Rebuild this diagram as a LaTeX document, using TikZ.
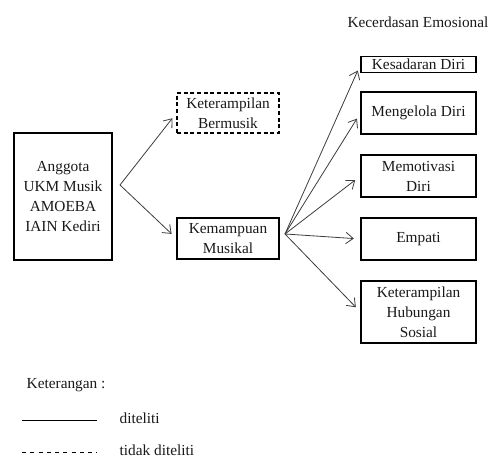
\documentclass[tikz,border=0pt]{standalone}
\usepackage{fontspec}
\setmainfont{Liberation Serif}
\definecolor{edgecolor}{RGB}{60,60,60}
\definecolor{txtcolor}{RGB}{25,25,25}
\usetikzlibrary{arrows.meta,positioning}
\tikzstyle{every node}=[text=txtcolor,font=\fontsize{11.5}{15}\selectfont]
\tikzstyle{box}=[draw=black,line width=0.8pt,align=center,inner sep=0pt]
\tikzstyle{skipbox}=[box,dash pattern=on 3pt off 2pt]
\tikzstyle{emobox}=[box,minimum width=86.25pt]
\tikzstyle{aedge}=[-{Straight Barb[length=5.5pt,width=8.5pt]},line width=0.6pt,edgecolor,shorten >=5pt]

\begin{document}
\begin{tikzpicture}[x=0.75pt,y=-0.75pt]
\useasboundingbox (0,0) rectangle (490,459);

    % subjek
    \node[box,minimum width=73.5pt,minimum height=95.25pt] (anggota) at (63,196.5)
        {Anggota\\UKM Musik\\AMOEBA\\IAIN Kediri};

    \node[skipbox,minimum width=76.5pt,minimum height=30pt] (bermusik) at (228,113)
        {Keterampilan\\Bermusik};
    \node[box,minimum width=76.5pt,minimum height=30.75pt] (musikal) at (228,238.5)
        {Kemampuan\\Musikal};

    % kecerdasan emosional
    \node (judul) at (418,22) {Kecerdasan Emosional};
    \foreach \name/\y/\h/\txt in {kesadaran/64.5/16/Kesadaran Diri,
                                 mengelola/113/42/Mengelola Diri,
                                 memotivasi/176/42/{Memotivasi\\Diri},
                                 empati/239/42/Empati,
                                 sosial/312/62/{Keterampilan\\Hubungan\\Sosial}}
        \node[emobox,minimum height=\h*0.75pt] (\name) at (418.5,\y) {\txt};

    \coordinate (split1) at (120,185);
    \coordinate (split2) at (285,234);

    \foreach \dest in {bermusik,musikal}
        \draw[aedge] (split1) -- (\dest.west);

    \foreach \dest in {kesadaran,mengelola,memotivasi,empati,sosial}
        \draw[aedge] (split2) -- (\dest.west);

    % keterangan
    \node[anchor=base west] (ket) at (22,389) {Keterangan :};
    \coordinate (solidA) at (22,420);
    \coordinate (solidB) at (97,420);
    \coordinate (dashA) at (22,452);
    \coordinate (dashB) at (97,452);
    \draw[black,line width=0.7pt] (solidA) -- (solidB);
    \draw[black,line width=0.7pt,dash pattern=on 3pt off 3.2pt] (dashA) -- (dashB);
    \node[anchor=base west] (diteliti) at (115,424) {diteliti};
    \node[anchor=base west] (tidak) at (115,456) {tidak diteliti};
\end{tikzpicture}
\end{document}
